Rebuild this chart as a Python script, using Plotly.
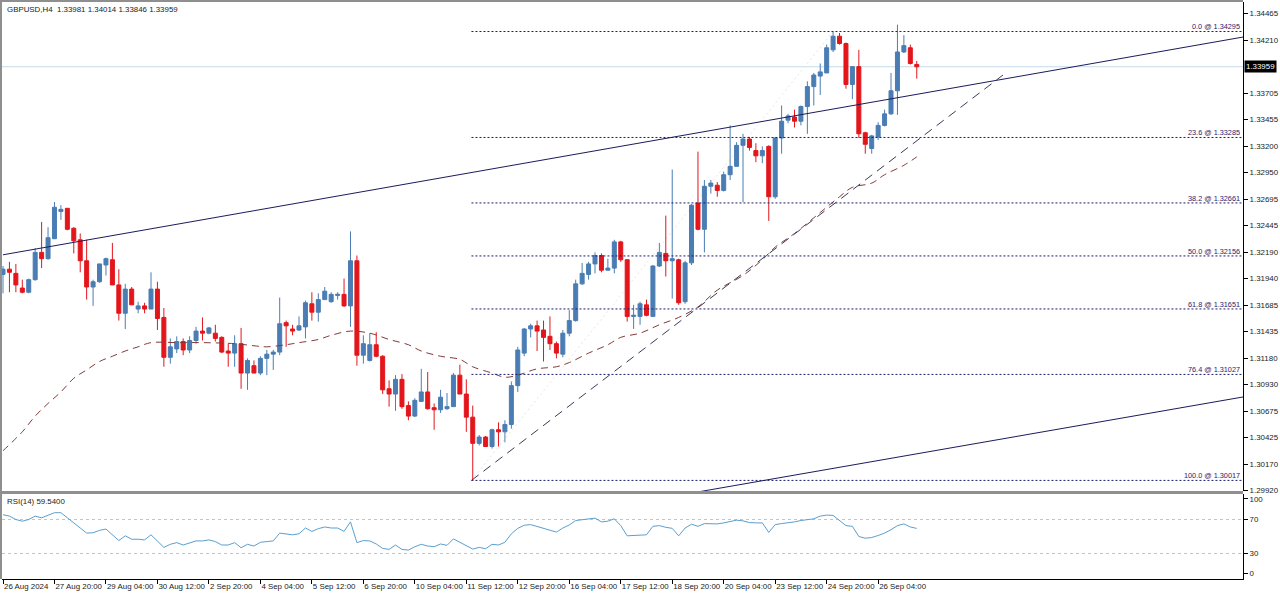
import plotly.graph_objects as go

# ---------------- data ----------------
open_ = [
    1.3198, 1.3203, 1.3199, 1.3185, 1.3181, 1.3193, 1.3219, 1.3213, 1.3232, 1.3258,
    1.3261, 1.3242, 1.3231, 1.3211, 1.3186, 1.3191, 1.3207, 1.3212, 1.3188, 1.3161,
    1.3184, 1.3165, 1.3168, 1.3165, 1.3184, 1.3157, 1.3119, 1.3127, 1.3134, 1.3126,
    1.3135, 1.3144, 1.3142, 1.3142, 1.3138, 1.3125, 1.3123, 1.3132, 1.3104, 1.3111,
    1.3104, 1.3118, 1.3122, 1.3124, 1.3152, 1.3146, 1.3145, 1.3148, 1.3170, 1.3162,
    1.3174, 1.3172, 1.3178, 1.3179, 1.3168, 1.3211, 1.3121, 1.3116, 1.3131, 1.3120,
    1.3089, 1.3084, 1.3098, 1.3073, 1.3063, 1.3077, 1.3086, 1.3071, 1.3069, 1.3070,
    1.3072, 1.3102, 1.3084, 1.3062, 1.3037, 1.3043, 1.3034, 1.3050, 1.3048, 1.3055,
    1.3092, 1.3123, 1.3146, 1.3149, 1.3145, 1.3139, 1.3132, 1.3122, 1.3142, 1.3154,
    1.3189, 1.3198, 1.3208, 1.3216, 1.3202, 1.3204, 1.3229, 1.3212, 1.3158, 1.3158,
    1.3169, 1.3158, 1.3206, 1.3218, 1.3211, 1.3212, 1.3172, 1.3209, 1.3266, 1.3241,
    1.3282, 1.3283, 1.3278, 1.3293, 1.3301, 1.3321, 1.3327, 1.3316, 1.3311, 1.3320,
    1.3272, 1.3328, 1.3345, 1.3348, 1.3344, 1.3358, 1.3377, 1.3387, 1.3390, 1.3412,
    1.3425, 1.3418, 1.3379, 1.3396, 1.3333, 1.3318, 1.3329, 1.3340, 1.3351, 1.3373,
    1.3410, 1.3414, 1.33981,
]
high_ = [
    1.3206, 1.3210, 1.3208, 1.3193, 1.3194, 1.3223, 1.3248, 1.3243, 1.3267, 1.3264,
    1.3261, 1.3243, 1.3237, 1.3231, 1.3193, 1.3208, 1.3214, 1.3228, 1.3203, 1.3189,
    1.3186, 1.3172, 1.3171, 1.3200, 1.3191, 1.3166, 1.3137, 1.3139, 1.3137, 1.3139,
    1.3148, 1.3157, 1.3148, 1.3150, 1.3139, 1.3132, 1.3140, 1.3147, 1.3118, 1.3116,
    1.3120, 1.3126, 1.3126, 1.3176, 1.3154, 1.3150, 1.3158, 1.3173, 1.3181, 1.3180,
    1.3186, 1.3181, 1.3181, 1.3194, 1.3239, 1.3216, 1.3140, 1.3142, 1.3143, 1.3121,
    1.3097, 1.3102, 1.3103, 1.3077, 1.3080, 1.3108, 1.3105, 1.3075, 1.3088, 1.3085,
    1.3104, 1.3112, 1.3098, 1.3073, 1.3045, 1.3044, 1.3051, 1.3057, 1.3059, 1.3096,
    1.3129, 1.3147, 1.3151, 1.3154, 1.3154, 1.3158, 1.3134, 1.3145, 1.3164, 1.3193,
    1.3209, 1.3210, 1.3219, 1.3218, 1.3213, 1.3231, 1.3230, 1.3212, 1.3169, 1.3172,
    1.3174, 1.3207, 1.3228, 1.3254, 1.3298, 1.3213, 1.3211, 1.3265, 1.3315, 1.3288,
    1.3288, 1.3286, 1.3296, 1.3340, 1.3324, 1.3332, 1.3329, 1.3323, 1.3320, 1.3321,
    1.3329, 1.3359, 1.3351, 1.3355, 1.3359, 1.3382, 1.3390, 1.3399, 1.3417, 1.34295,
    1.3428, 1.3419, 1.3396, 1.3412, 1.3334, 1.3331, 1.3343, 1.3355, 1.3390, 1.3436,
    1.3426, 1.3417, 1.34014,
]
low_ = [
    1.3180, 1.3181, 1.3181, 1.3180, 1.3180, 1.3192, 1.3204, 1.3212, 1.3232, 1.3250,
    1.3240, 1.3218, 1.3200, 1.3174, 1.3168, 1.3190, 1.3197, 1.3188, 1.3154, 1.3146,
    1.3169, 1.3161, 1.3161, 1.3165, 1.3145, 1.3110, 1.3113, 1.3123, 1.3121, 1.3123,
    1.3132, 1.3135, 1.3141, 1.3134, 1.3123, 1.3110, 1.3110, 1.3089, 1.3088, 1.3104,
    1.3102, 1.3102, 1.3107, 1.3121, 1.3129, 1.3140, 1.3144, 1.3137, 1.3154, 1.3153,
    1.3174, 1.3171, 1.3174, 1.3167, 1.3148, 1.3111, 1.3113, 1.3115, 1.3119, 1.3084,
    1.3072, 1.3068, 1.3070, 1.3059, 1.3062, 1.3077, 1.3069, 1.3050, 1.3066, 1.3069,
    1.3072, 1.3084, 1.3048, 1.30017, 1.3035, 1.3034, 1.3032, 1.3034, 1.3038, 1.3051,
    1.3086, 1.3120, 1.3138, 1.3125, 1.3115, 1.3126, 1.3118, 1.3119, 1.3139, 1.3153,
    1.3188, 1.3193, 1.3199, 1.3200, 1.3202, 1.3199, 1.3210, 1.3153, 1.3146, 1.3150,
    1.3158, 1.3158, 1.3205, 1.3196, 1.3175, 1.3169, 1.3170, 1.3207, 1.3240, 1.3219,
    1.3275, 1.3272, 1.3277, 1.3288, 1.3301, 1.3267, 1.3316, 1.3305, 1.3304, 1.3249,
    1.3270, 1.3313, 1.3342, 1.3338, 1.3340, 1.3332, 1.3359, 1.3369, 1.3390, 1.3410,
    1.3417, 1.3375, 1.3365, 1.3328, 1.3313, 1.3313, 1.3326, 1.3339, 1.3350, 1.3350,
    1.3409, 1.3398, 1.33846,
]
close_ = [
    1.3203, 1.3200, 1.3188, 1.3181, 1.3193, 1.3219, 1.3213, 1.3233, 1.3262, 1.3260,
    1.3241, 1.3230, 1.3211, 1.3186, 1.3191, 1.3208, 1.3213, 1.3188, 1.3161, 1.3184,
    1.3169, 1.3168, 1.3165, 1.3184, 1.3156, 1.3119, 1.3129, 1.3134, 1.3126, 1.3135,
    1.3144, 1.3142, 1.3147, 1.3137, 1.3124, 1.3123, 1.3132, 1.3104, 1.3116, 1.3104,
    1.3118, 1.3122, 1.3124, 1.3151, 1.3149, 1.3144, 1.3149, 1.3171, 1.3162, 1.3174,
    1.3182, 1.3179, 1.3179, 1.3168, 1.3211, 1.3121, 1.3132, 1.3131, 1.3120, 1.3088,
    1.3084, 1.3098, 1.3072, 1.3063, 1.3078, 1.3086, 1.3070, 1.3069, 1.3081, 1.3072,
    1.3102, 1.3084, 1.3062, 1.3037, 1.3043, 1.3034, 1.3050, 1.3048, 1.3055, 1.3092,
    1.3126, 1.3146, 1.3149, 1.3144, 1.3138, 1.3132, 1.3123, 1.3142, 1.3154, 1.3189,
    1.3199, 1.3208, 1.3216, 1.3202, 1.3204, 1.3229, 1.3212, 1.3158, 1.3159, 1.3170,
    1.3159, 1.3206, 1.3219, 1.3211, 1.3213, 1.3171, 1.3209, 1.3264, 1.3241, 1.3282,
    1.3285, 1.3278, 1.3293, 1.3301, 1.3321, 1.3327, 1.3319, 1.3311, 1.3316, 1.3272,
    1.3328, 1.3344, 1.3349, 1.3344, 1.3358, 1.3377, 1.3388, 1.3391, 1.3414, 1.3425,
    1.3418, 1.3379, 1.3396, 1.3332, 1.3322, 1.3330, 1.3340, 1.3351, 1.3373, 1.3410,
    1.3416, 1.3399, 1.33959,
]

rsi_values = [
    75.6, 74.0, 70.0, 68.0, 70.0, 74.0, 72.0, 74.8, 78.0, 78.0,
    71.6, 66.0, 60.0, 54.0, 54.4, 57.2, 58.8, 52.0, 45.2, 50.8,
    46.8, 46.8, 46.0, 52.0, 44.0, 37.2, 40.8, 42.8, 40.0, 42.8,
    44.8, 44.8, 46.0, 44.0, 40.0, 40.0, 42.8, 36.8, 40.8, 38.8,
    43.2, 44.0, 44.8, 54.0, 53.2, 52.0, 53.2, 60.0, 56.0, 59.2,
    61.2, 60.0, 60.0, 56.0, 67.2, 42.8, 45.2, 44.8, 41.2, 36.0,
    34.8, 40.0, 34.8, 34.0, 38.0, 40.8, 38.8, 38.0, 41.2, 39.6,
    47.2, 43.2, 39.2, 35.2, 37.2, 35.6, 40.8, 40.0, 43.2, 53.2,
    59.6, 63.2, 64.0, 62.0, 60.0, 57.2, 55.2, 60.0, 63.6, 68.8,
    70.0, 70.4, 71.6, 67.2, 68.0, 70.8, 62.8, 50.8, 51.2, 52.4,
    52.0, 62.0, 62.8, 60.8, 59.6, 50.8, 60.0, 64.4, 62.0, 65.2,
    64.8, 64.8, 66.0, 68.0, 69.2, 68.4, 66.4, 66.0, 66.0, 54.8,
    64.0, 65.2, 66.0, 67.2, 68.8, 70.0, 70.8, 74.0, 75.2, 74.8,
    69.2, 62.8, 62.0, 50.0, 48.0, 48.8, 51.2, 54.0, 58.0, 62.8,
    64.8, 61.2, 59.54,
]

ma_bars = [0, 3, 5, 7, 9, 11, 13, 15, 17, 19, 21, 23, 27, 31, 36, 39, 41, 44, 46,
           49, 51, 54, 57, 60, 63, 65, 68, 71, 73, 76, 78, 80, 83, 86, 88, 91, 94,
           96, 99, 102, 105, 108, 111, 115, 118, 120, 123, 127, 130, 132, 135, 137,
           140, 142]
ma_values = [1.3030, 1.3048, 1.3063, 1.3075, 1.3086, 1.3099, 1.3107, 1.3115, 1.3120,
             1.3125, 1.3129, 1.3133, 1.3133, 1.3133, 1.3132, 1.3130, 1.3129, 1.3131,
             1.3133, 1.3136, 1.3140, 1.3144, 1.3142, 1.3136, 1.3131, 1.3125, 1.3120,
             1.3117, 1.3110, 1.3104, 1.3100, 1.3102, 1.3108, 1.3110, 1.3114, 1.3123,
             1.3131, 1.3138, 1.3142, 1.3150, 1.3157, 1.3167, 1.3183, 1.3197, 1.3212,
             1.3224, 1.3237, 1.3257, 1.3272, 1.3281, 1.3285, 1.3293, 1.3302, 1.3310]

time_tick_bars = [0, 8, 16, 24, 32, 40, 48, 56, 64, 72, 80, 88, 96, 104, 112, 120, 128, 136]
time_tick_labels = ["26 Aug 2024", "27 Aug 20:00", "29 Aug 04:00", "30 Aug 12:00",
                    "2 Sep 20:00", "4 Sep 04:00", "5 Sep 12:00", "6 Sep 20:00",
                    "10 Sep 04:00", "11 Sep 12:00", "12 Sep 20:00", "16 Sep 04:00",
                    "17 Sep 12:00", "18 Sep 20:00", "20 Sep 04:00", "23 Sep 12:00",
                    "24 Sep 20:00", "26 Sep 04:00"]

price_ticks = [1.34465, 1.34210, 1.33705, 1.33455, 1.33200, 1.32950, 1.32695, 1.32445,
               1.32190, 1.31940, 1.31685, 1.31435, 1.31180, 1.30930, 1.30675, 1.30425,
               1.30170, 1.29920]

fib_ratios = ["0.0", "23.6", "38.2", "50.0", "61.8", "76.4", "100.0"]
fib_prices = [1.34295, 1.33285, 1.32661, 1.32156, 1.31651, 1.31027, 1.30017]
fib_start_bar = 72.8
fib_high_bar = 129

channel_upper = [(0.0, 1.32167), (192.7, 1.34242)]
channel_lower = [(107.9, 1.29906), (192.7, 1.30812)]
support_line = [(72.8, 1.30017), (155.4, 1.33880)]

last_price = 1.33959
title_text = "GBPUSD,H4&nbsp; 1.33981 1.34014 1.33846 1.33959"
rsi_text = "RSI(14) 59.5400"

# ---------------- layout geometry ----------------
W, H = 1280, 596
L, R, T, B = 2, 37, 2, 17
PW, PH = W - L - R, H - T - B


def px(xp):
    return (xp - L) / PW


def py(yp):
    return (H - B - yp) / PH


X_RANGE = [-0.155, 192.7]
Y_RANGE = [1.29916, 1.34576]
FONT = "Liberation Sans, Arial, sans-serif"
NAVY = "#1d1d6e"
FS = 7.9

bars = list(range(len(close_)))

fig = go.Figure()
fig.add_trace(go.Candlestick(
    x=bars, open=open_, high=high_, low=low_, close=close_,
    increasing=dict(line=dict(color="#4a7db3", width=1), fillcolor="#4a7db3"),
    decreasing=dict(line=dict(color="#e3161b", width=1), fillcolor="#e3161b"),
    whiskerwidth=0, xaxis="x", yaxis="y", hoverinfo="skip", showlegend=False))

fig.add_trace(go.Scatter(
    x=ma_bars, y=ma_values, mode="lines", line_shape="spline",
    line=dict(color="#833a3a", width=1, dash="7px,5px"),
    xaxis="x", yaxis="y", hoverinfo="skip", showlegend=False))

fig.add_trace(go.Scatter(
    x=bars, y=rsi_values, mode="lines",
    line=dict(color="#5a9fd0", width=1),
    xaxis="x", yaxis="y2", hoverinfo="skip", showlegend=False))

shapes = []
shapes.append(dict(type="line", xref="paper", yref="y", x0=0, x1=1,
                   y0=last_price, y1=last_price,
                   line=dict(color="#c3dde8", width=1), layer="below"))
shapes.append(dict(type="line", xref="x", yref="y", x0=fib_start_bar, y0=fib_prices[-1],
                   x1=fib_high_bar, y1=fib_prices[0],
                   line=dict(color="#ece4e4", width=1, dash="2px,3px"), layer="below"))
for p in fib_prices:
    shapes.append(dict(type="line", xref="x", yref="y", x0=fib_start_bar, x1=X_RANGE[1],
                       y0=p, y1=p, line=dict(color=NAVY, width=1, dash="2px,2px")))
for seg in (channel_upper, channel_lower):
    shapes.append(dict(type="line", xref="x", yref="y", x0=seg[0][0], y0=seg[0][1],
                       x1=seg[1][0], y1=seg[1][1], line=dict(color="#1b1b5e", width=1)))
shapes.append(dict(type="line", xref="x", yref="y", x0=support_line[0][0], y0=support_line[0][1],
                   x1=support_line[1][0], y1=support_line[1][1],
                   line=dict(color="#3b3b55", width=1, dash="9px,6px")))
for lv in (70, 30):
    shapes.append(dict(type="line", xref="paper", yref="y2", x0=0, x1=1, y0=lv, y1=lv,
                       line=dict(color="#c4c4c4", width=1, dash="3px,3px"), layer="below"))
GRAY = "#8f8f8f"
shapes.append(dict(type="rect", xref="paper", yref="paper", x0=px(0), x1=px(2),
                   y0=py(579), y1=py(0), line=dict(width=0), fillcolor=GRAY))
shapes.append(dict(type="rect", xref="paper", yref="paper", x0=px(0), x1=px(1243),
                   y0=py(2), y1=py(0), line=dict(width=0), fillcolor=GRAY))
shapes.append(dict(type="rect", xref="paper", yref="paper", x0=px(2), x1=px(1243),
                   y0=py(494), y1=py(491), line=dict(width=0), fillcolor=GRAY))

annotations = []
annotations.append(dict(xref="paper", yref="paper", x=px(5), y=py(10), text=title_text,
                        showarrow=False, xanchor="left", yanchor="middle",
                        font=dict(family=FONT, size=FS, color="#222222")))
annotations.append(dict(xref="paper", yref="paper", x=px(5), y=py(501), text=rsi_text,
                        showarrow=False, xanchor="left", yanchor="middle",
                        font=dict(family=FONT, size=FS, color="#222222")))
for r, p in zip(fib_ratios, fib_prices):
    annotations.append(dict(xref="paper", yref="y", x=px(1241), y=p,
                            text=f"{r} @ {p:.5f}", showarrow=False,
                            xanchor="right", yanchor="bottom", borderpad=0, yshift=-1,
                            font=dict(family=FONT, size=7.3, color=NAVY)))
annotations.append(dict(xref="paper", yref="y", x=1, y=last_price, xshift=1,
                        text=f"{last_price:.5f}", showarrow=False,
                        xanchor="left", yanchor="middle", bgcolor="#000000", borderpad=1,
                        font=dict(family=FONT, size=FS, color="#ffffff")))

axis_font = dict(family=FONT, size=FS, color="#222222")
fig.update_layout(
    width=W, height=H,
    margin=dict(l=L, r=R, t=T, b=B, pad=0, autoexpand=False),
    paper_bgcolor="white", plot_bgcolor="white",
    showlegend=False, hovermode=False,
    boxgap=0.38, boxgroupgap=0,
    shapes=shapes, annotations=annotations,
    xaxis=dict(domain=[0, 1], anchor="y2", range=X_RANGE,
               tickmode="array", tickvals=time_tick_bars, ticktext=time_tick_labels,
               tickangle=0, automargin=False,
               ticks="outside", ticklen=4, tickcolor="#000000", tickwidth=1,
               ticklabelposition="outside right",
               showline=True, linecolor="#000000", linewidth=1,
               showgrid=False, zeroline=False, tickfont=axis_font,
               rangeslider=dict(visible=False), fixedrange=True),
    yaxis=dict(domain=[py(491), 1], anchor="x", side="right", range=Y_RANGE,
               tickmode="array", tickvals=price_ticks, automargin=False,
               ticktext=[f"{v:.5f}" for v in price_ticks],
               ticks="outside", ticklen=4, tickcolor="#000000",
               showline=True, linecolor="#000000", linewidth=1,
               showgrid=False, zeroline=False, tickfont=axis_font),
    yaxis2=dict(domain=[0, py(494)], anchor="x", side="right", range=[0, 100],
                tickmode="array", tickvals=[94.2, 70, 30, 7], automargin=False,
                ticktext=["100", "70", "30", "0"],
                ticks="outside", ticklen=4, tickcolor="#000000",
                showline=True, linecolor="#000000", linewidth=1,
                showgrid=False, zeroline=False, tickfont=axis_font),
)

fig.write_html("out.html")
